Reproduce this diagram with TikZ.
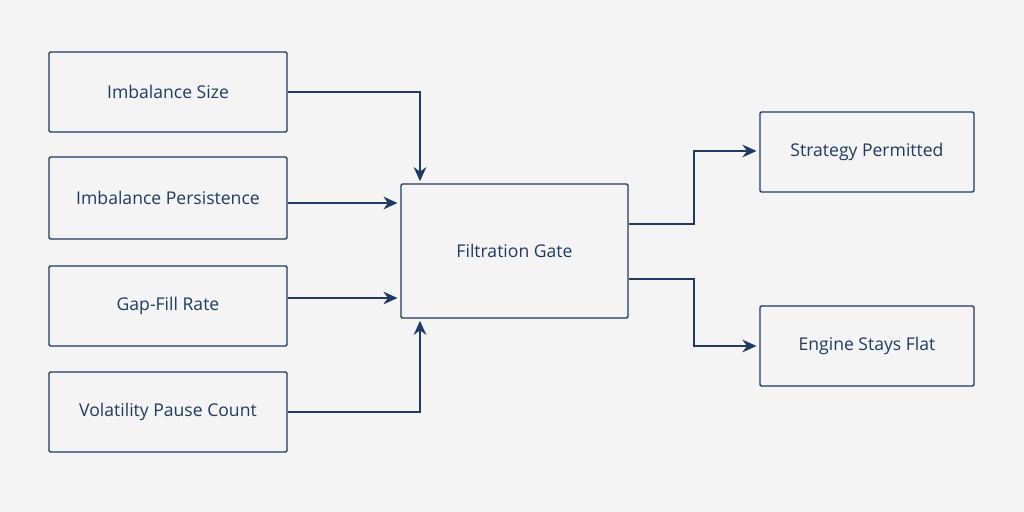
\documentclass[tikz,border=0pt]{standalone}
\usepackage{fontspec}
\setmainfont{Open Sans}
\usetikzlibrary{arrows.meta}
\definecolor{navy}{HTML}{1F3A66}
\definecolor{bg}{HTML}{F4F4F4}
\begin{document}
\begin{tikzpicture}[x=0.025cm,y=-0.025cm,>={Stealth[length=10pt,width=9pt]},
    line width=1.3pt, draw=navy,
    box/.style={draw=navy,line width=1pt,rounded corners=1pt,font=\fontsize{12.5}{15}\selectfont,text=navy},
    flow/.style={->,draw=navy,line width=1.4pt,shorten >=2pt}]
  \fill[bg] (0,0) rectangle (1024,512);
  \useasboundingbox (0,0) rectangle (1024,512);

  \node[box,minimum width=238*0.025cm,minimum height=80*0.025cm] (size) at (168,92) {Imbalance Size};
  \node[box,minimum width=238*0.025cm,minimum height=82*0.025cm] (pers) at (168,198) {Imbalance Persistence};
  \node[box,minimum width=238*0.025cm,minimum height=80*0.025cm] (gap) at (168,306) {Gap-Fill Rate};
  \node[box,minimum width=238*0.025cm,minimum height=80*0.025cm] (vol) at (168,412) {Volatility Pause Count};
  \node[box,minimum width=227*0.025cm,minimum height=134*0.025cm] (gate) at (514.5,251) {Filtration Gate};
  \node[box,minimum width=214*0.025cm,minimum height=80*0.025cm] (perm) at (867,152) {Strategy Permitted};
  \node[box,minimum width=214*0.025cm,minimum height=80*0.025cm] (flat) at (867,346) {Engine Stays Flat};

  \draw[flow] (size.east) -| (420,184);
  \draw[flow] (pers.east |- 0,203) -- (gate.west |- 0,203);
  \draw[flow] (gap.east |- 0,298) -- (gate.west |- 0,298);
  \draw[flow] (vol.east) -| (420,318);
  \draw[flow] (gate.east |- 0,224) -| (694,151) -- (perm.west |- 0,151);
  \draw[flow] (gate.east |- 0,279) -| (694,346) -- (flat.west);
\end{tikzpicture}
\end{document}
